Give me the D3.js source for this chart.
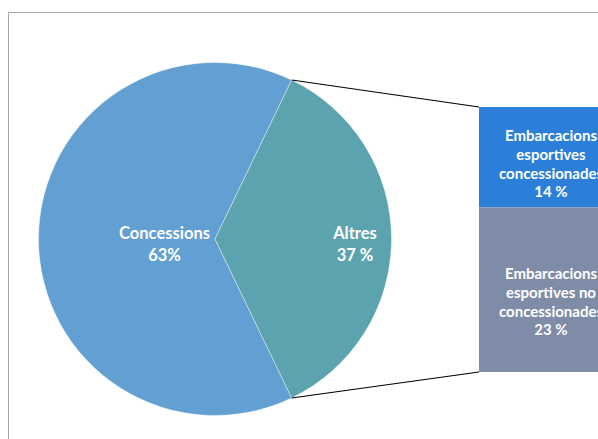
<!DOCTYPE html>
<html><head><meta charset="utf-8">
<script src="https://cdn.jsdelivr.net/npm/d3@7"></script>
<style>body{margin:0;background:#fff;overflow:hidden}svg{display:block}</style>
</head><body>
<svg id="c" width="598" height="439"></svg>
<script>
const pieCategories = ["Concessions", "Altres"];
const pieValues = [64.3, 35.7];
const pieLabels = ["63%", "37 %"];
const barCategories = [["Embarcacions", "esportives", "concessionades"], ["Embarcacions", "esportives no", "concessionades"]];
const barValues = [14, 23];
const barLabels = ["14 %", "23 %"];

const pieColors = ["#629fd2", "#5ba3ae"];
const barColors = ["#2c7fd8", "#7f8ca7"];
const font = "Lato, 'Open Sans', sans-serif";

const svg = d3.select("#c");
svg.append("rect").attr("x", 8.5).attr("y", 12.5).attr("width", 620).attr("height", 440)
  .attr("fill", "#fff").attr("stroke", "#a6a6a6").attr("stroke-width", 1);

const cx = 215, cy = 239, R = 176.5;
const total = d3.sum(pieValues);
const altFrac = pieValues[1] / total;
const pie = d3.pie().sort(null).startAngle(Math.PI / 2 + altFrac * Math.PI)
  .endAngle(Math.PI / 2 + altFrac * Math.PI + 2 * Math.PI);
const arcs = pie(pieValues);
const arc = d3.arc().innerRadius(0).outerRadius(R);
const g = svg.append("g").attr("transform", `translate(${cx},${cy})`);
g.selectAll("path").data(arcs).join("path").attr("d", arc)
  .attr("fill", (d, i) => pieColors[i]).attr("stroke", "#fff").attr("stroke-width", 0.4);

// pie labels
const labelX = [-50.5, 140];
arcs.forEach((d, i) => {
  const t = g.append("text").attr("text-anchor", "middle").attr("fill", "#fff")
    .attr("font-family", font).attr("font-weight", "bold").attr("font-size", 16.5);
  t.append("tspan").attr("x", labelX[i]).attr("y", -0.5).text(pieCategories[i]);
  t.append("tspan").attr("x", labelX[i]).attr("y", 21.5).text(pieLabels[i]);
});

// bar of pie
const barX = 479, barW = 144;
const y = d3.scaleLinear().domain([0, d3.sum(barValues)]).range([107, 372]);
let acc = 0;
const stack = barValues.map(v => { const s = { y0: acc, y1: acc + v }; acc += v; return s; });
svg.selectAll("rect.bar").data(stack).join("rect").attr("class", "bar")
  .attr("x", barX).attr("width", barW)
  .attr("y", d => y(d.y0)).attr("height", d => y(d.y1) - y(d.y0))
  .attr("fill", (d, i) => barColors[i]);

const labelShift = [12, 17.5];
stack.forEach((s, i) => {
  const mid = (y(s.y0) + y(s.y1)) / 2;
  const lines = barCategories[i].concat([barLabels[i]]);
  const t = svg.append("text").attr("text-anchor", "middle").attr("fill", "#fff")
    .attr("font-family", font).attr("font-weight", "bold").attr("font-size", 15);
  lines.forEach((l, j) => {
    t.append("tspan").attr("x", barX + 72).attr("y", mid + (j - 1.5) * 18.8 + labelShift[i]).text(l);
  });
});

// connector lines
const a0 = arcs[1].startAngle, a1 = arcs[1].endAngle;
const p = a => [cx + R * Math.sin(a), cy - R * Math.cos(a)];
const pTop = p(a0), pBot = p(a1);
svg.append("line").attr("x1", pTop[0]).attr("y1", pTop[1]).attr("x2", barX).attr("y2", y(0))
  .attr("stroke", "#000").attr("stroke-width", 1.2);
svg.append("line").attr("x1", pBot[0]).attr("y1", pBot[1]).attr("x2", barX).attr("y2", y(d3.sum(barValues)))
  .attr("stroke", "#000").attr("stroke-width", 1.2);
</script>
</body></html>
